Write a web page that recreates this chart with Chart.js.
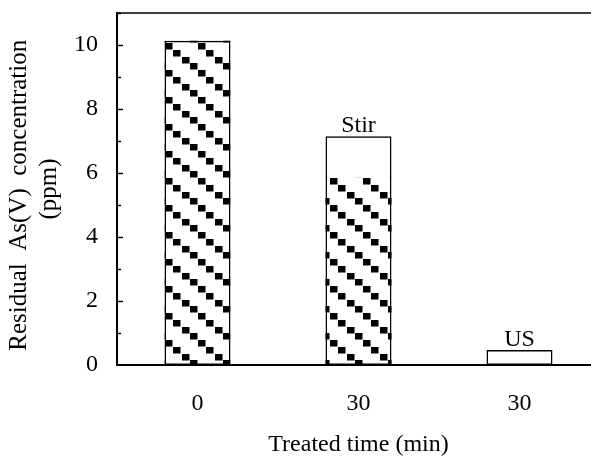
<!DOCTYPE html>
<html>
<head>
<meta charset="utf-8">
<script src="https://cdn.jsdelivr.net/npm/chart.js@4"></script>
<style>
  html, body { margin: 0; padding: 0; background: #fff; overflow: hidden; }
  #wrap { width: 620px; height: 456px; }
</style>
</head>
<body>
<div id="wrap"><canvas id="chart" width="620" height="456"></canvas></div>
<script>
// ========== DADOS ==========
const categorias = ['0', '30', '30'];
const concentracao = [10.13, 7.15, 0.47];
const parteHachurada = [10.13, 5.85, null];
const notas = ['', 'Stir', 'US'];
const tituloY = ['Residual  As(V)  concentration  ', '(ppm)'];
const tituloX = 'Treated time (min)';

const FONTE = "'Liberation Serif', 'Times New Roman', serif";

// padrão de quadradinhos em diagonal
function criarPadrao(ctx) {
    const tile = document.createElement('canvas');
    tile.width = 33;
    tile.height = 27;
    const t = tile.getContext('2d');
    t.fillStyle = '#fff';
    t.fillRect(0, 0, 33, 27);
    t.fillStyle = '#000';
    for (let i = 0; i < 4; i++) {
        t.fillRect(Math.round(i * 8.25), Math.round(i * 6.75), 7.5, 6.5);
    }
    const p = ctx.createPattern(tile, 'repeat');
    p.setTransform(new DOMMatrix().translate(0, 16));
    return p;
}

const ctx = document.getElementById('chart').getContext('2d');
const padrao = criarPadrao(ctx);

const extras = {
    id: 'extras',
    afterDraw(chart) {
        const c = chart.ctx;
        const area = chart.chartArea;
        const y = chart.scales.y;
        c.save();
        c.strokeStyle = '#000';
        // linha de cima
        c.lineWidth = 1.5;
        c.beginPath();
        c.moveTo(area.left, area.top);
        c.lineTo(area.right, area.top);
        c.stroke();
        // ticks para dentro
        for (let v = 1; v <= 11; v++) {
            const py = Math.round(y.getPixelForValue(v)) + 0.5;
            const len = v % 2 === 0 ? 6 : 4;
            c.beginPath();
            c.moveTo(area.left, py);
            c.lineTo(area.left + len, py);
            c.stroke();
        }
        // notas acima das barras
        const meta = chart.getDatasetMeta(0);
        c.fillStyle = '#000';
        c.font = '24px ' + FONTE;
        c.textAlign = 'center';
        c.textBaseline = 'alphabetic';
        meta.data.forEach((bar, i) => {
            if (notas[i]) c.fillText(notas[i], bar.x, bar.y - 4);
        });
        c.restore();
    }
};

new Chart(ctx, {
    type: 'bar',
    data: {
        labels: categorias,
        datasets: [{
            data: concentracao,
            backgroundColor: 'rgba(0,0,0,0)',
            borderColor: '#000',
            borderWidth: 1.5,
            borderSkipped: false,
            grouped: false,
            order: 0,
            barPercentage: 0.41,
            categoryPercentage: 1
        }, {
            data: parteHachurada,
            backgroundColor: padrao,
            borderWidth: 0,
            grouped: false,
            order: 1,
            barPercentage: 0.41,
            categoryPercentage: 1
        }]
    },
    options: {
        responsive: false,
        animation: false,
        layout: { padding: { top: 13, right: 20, left: 0, bottom: 0 } },
        plugins: {
            legend: { display: false },
            tooltip: { enabled: false }
        },
        scales: {
            x: {
                grid: { display: false, drawTicks: false },
                border: { color: '#000', width: 2 },
                ticks: { color: '#000', padding: 24, font: { family: FONTE, size: 24 } },
                title: {
                    display: true,
                    text: tituloX,
                    color: '#000',
                    font: { family: FONTE, size: 24 },
                    padding: { top: 10, bottom: -3 }
                },
                afterFit(scale) {
                    scale.height = 91;
                    scale.paddingLeft = 0;
                    scale.paddingRight = 0;
                }
            },
            y: {
                min: 0,
                max: 11,
                grid: { display: false, drawTicks: false },
                border: { color: '#000', width: 2 },
                ticks: {
                    color: '#000',
                    stepSize: 1,
                    padding: 19,
                    font: { family: FONTE, size: 24 },
                    callback: function(value) {
                        return value % 2 === 0 ? value : '';
                    }
                },
                title: {
                    display: true,
                    text: tituloY,
                    color: '#000',
                    font: { family: FONTE, size: 25 },
                    lineHeight: 1.4,
                    padding: { top: 4, bottom: 0 }
                },
                afterFit(scale) {
                    scale.width = 117;
                    scale.paddingTop = 0;
                    scale.paddingBottom = 0;
                }
            }
        }
    },
    plugins: [extras]
});
</script>
</body>
</html>
